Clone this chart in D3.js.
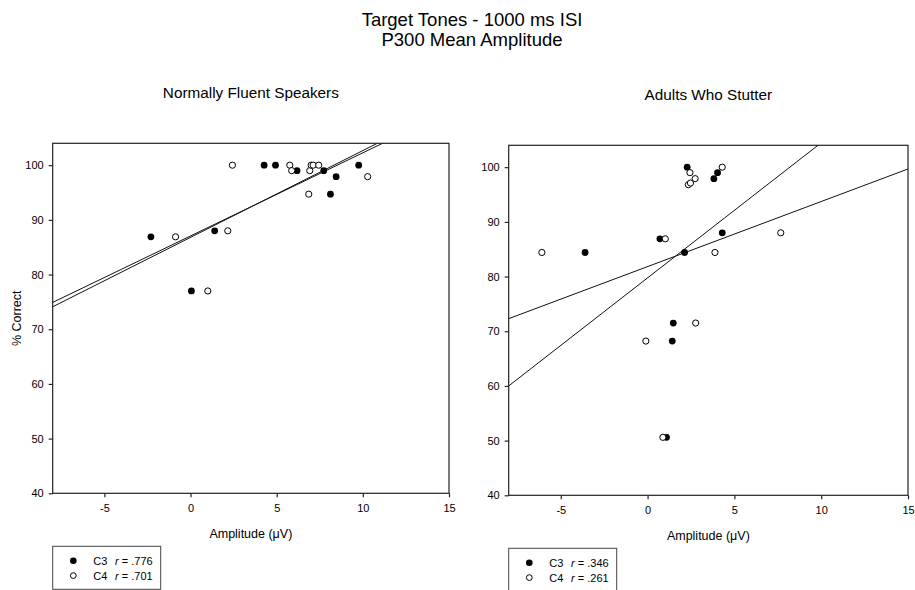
<!doctype html>
<html lang="en">
	<head>
		<meta charset="utf-8" />
		<title>Target Tones - 1000 ms ISI, P300 Mean Amplitude</title>
		<script type="text/javascript" src="https://d3js.org/d3.v7.min.js"></script>
		<style>
			body { margin: 0; background: #fff; }
			text { font-family: "Liberation Sans", Arial, sans-serif; fill: #000; }
		</style>
	</head>

	<body>
		<script type="text/javascript">
			var w = 915;
			var h = 590;

			// axis values
			var xTicks = [-5, 0, 5, 10, 15];
			var yTicks = [40, 50, 60, 70, 80, 90, 100];
			var xDomain = [-8, 15];
			var yDomain = [40, 104];

			// Normally Fluent Speakers
			var fluentC3X = [-2.3, 0.05, 1.4, 4.27, 4.93, 6.18, 7.73, 8.12, 8.45, 9.76];
			var fluentC3Y = [86.9, 77.0, 88.0, 100, 100, 99.0, 99.0, 94.7, 97.9, 100];
			var fluentC4X = [-0.87, 1.0, 2.16, 2.43, 5.76, 5.87, 6.86, 6.92, 7.0, 7.12, 7.44, 10.28];
			var fluentC4Y = [86.9, 77.0, 88.0, 100, 100, 99.0, 94.7, 99.0, 100, 100, 100, 97.9];
			var fluentFitIntercept = [87.06, 86.80];
			var fluentFitSlope = [1.52, 1.587];
			var fluentR = [".776", ".701"];

			// Adults Who Stutter
			var stutterC3X = [2.28, 3.82, 4.03, 4.30, 0.71, -3.6, 2.13, 1.48, 1.42, 1.09];
			var stutterC3Y = [100, 97.9, 99.0, 88.0, 86.9, 84.4, 84.4, 71.5, 68.2, 50.6];
			var stutterC4X = [4.30, 2.44, 2.74, 2.35, 2.47, 1.02, -6.09, 3.88, 7.67, 2.77, -0.1, 0.88];
			var stutterC4Y = [100, 99.0, 97.9, 96.8, 97.1, 86.9, 84.4, 84.4, 88.0, 71.5, 68.2, 50.6];
			var stutterFitIntercept = [79.76, 81.82];
			var stutterFitSlope = [2.47, 1.19];
			var stutterR = [".346", ".261"];

			var svg = d3.select("body")
				.append("svg")
				.attr("width", w)
				.attr("height", h);

			svg.append("text")
				.attr("x", 472)
				.attr("y", 26)
				.attr("text-anchor", "middle")
				.attr("font-size", "18.5px")
				.text("Target Tones - 1000 ms ISI");
			svg.append("text")
				.attr("x", 472)
				.attr("y", 46)
				.attr("text-anchor", "middle")
				.attr("font-size", "18.5px")
				.text("P300 Mean Amplitude");

			function drawPanel(p) {
				var x = d3.scaleLinear().domain(xDomain).range([p.left, p.right]);
				var y = d3.scaleLinear().domain(yDomain).range([p.bottom, p.top]);
				var g = svg.append("g");

				g.append("text")
					.attr("x", (p.left + p.right) / 2)
					.attr("y", p.top - 45)
					.attr("text-anchor", "middle")
					.attr("font-size", "15.3px")
					.text(p.title);

				g.append("clipPath")
					.attr("id", p.id + "-clip")
					.append("rect")
					.attr("x", p.left)
					.attr("y", p.top)
					.attr("width", p.right - p.left)
					.attr("height", p.bottom - p.top);

				// regression lines
				g.append("g")
					.attr("clip-path", "url(#" + p.id + "-clip)")
					.selectAll("line")
					.data(p.intercept)
					.enter()
					.append("line")
					.attr("x1", x(xDomain[0]))
					.attr("x2", x(xDomain[1]))
					.attr("y1", function(d, i) { return y(d + p.slope[i] * xDomain[0]); })
					.attr("y2", function(d, i) { return y(d + p.slope[i] * xDomain[1]); })
					.attr("stroke", "#111")
					.attr("stroke-width", 1);

				// frame
				g.append("rect")
					.attr("x", p.left)
					.attr("y", p.top)
					.attr("width", p.right - p.left)
					.attr("height", p.bottom - p.top)
					.attr("fill", "none")
					.attr("stroke", "#222")
					.attr("stroke-width", 1.2);

				var fmt = function(d) { return String(d); };
				var xAxis = g.append("g")
					.attr("transform", "translate(0," + p.bottom + ")")
					.call(d3.axisBottom(x).tickValues(xTicks).tickFormat(fmt).tickSize(4).tickPadding(7).tickSizeOuter(0));
				var yAxis = g.append("g")
					.attr("transform", "translate(" + p.left + ",0)")
					.call(d3.axisLeft(y).tickValues(yTicks).tickFormat(fmt).tickSize(4).tickPadding(5).tickSizeOuter(0));
				[xAxis, yAxis].forEach(function(a) {
					a.select(".domain").remove();
					a.selectAll("line").attr("stroke", "#222").attr("stroke-width", 1.2);
					a.selectAll("text")
						.attr("font-size", "11px")
						.attr("font-family", "'Liberation Sans', Arial, sans-serif")
						.attr("fill", "#111");
				});

				g.append("text")
					.attr("x", (p.left + p.right) / 2)
					.attr("y", p.bottom + 45)
					.attr("text-anchor", "middle")
					.attr("font-size", "12.5px")
					.text("Amplitude (\u03BCV)");

				if (p.yTitle) {
					g.append("text")
						.attr("transform", "translate(21," + (p.top + p.bottom) / 2 + ") rotate(-90)")
						.attr("text-anchor", "middle")
						.attr("font-size", "12.5px")
						.text("% Correct");
				}

				// C3 filled
				g.selectAll("circle.c3")
					.data(p.c3x)
					.enter()
					.append("circle")
					.attr("class", "c3")
					.attr("cx", function(d) { return x(d); })
					.attr("cy", function(d, i) { return y(p.c3y[i]); })
					.attr("r", 3.4)
					.attr("fill", "#000");

				// C4 open
				g.selectAll("circle.c4")
					.data(p.c4x)
					.enter()
					.append("circle")
					.attr("class", "c4")
					.attr("cx", function(d) { return x(d); })
					.attr("cy", function(d, i) { return y(p.c4y[i]); })
					.attr("r", 3.1)
					.attr("fill", "#fff")
					.attr("stroke", "#000")
					.attr("stroke-width", 1);

				// legend
				var lx = p.left;
				var ly = p.bottom + 53;
				g.append("rect")
					.attr("x", lx)
					.attr("y", ly)
					.attr("width", 108)
					.attr("height", 43)
					.attr("fill", "none")
					.attr("stroke", "#444")
					.attr("stroke-width", 1);
				var rows = g.selectAll("g.leg")
					.data(["C3", "C4"])
					.enter()
					.append("g")
					.attr("class", "leg")
					.attr("transform", function(d, i) { return "translate(" + lx + "," + (ly + 14.5 + i * 14.8) + ")"; });
				rows.append("circle")
					.attr("cx", 20.6)
					.attr("cy", 0)
					.attr("r", function(d, i) { return i == 0 ? 3.3 : 2.9; })
					.attr("fill", function(d, i) { return i == 0 ? "#000" : "#fff"; })
					.attr("stroke", "#000")
					.attr("stroke-width", function(d, i) { return i == 0 ? 0 : 1; });
				rows.append("text")
					.attr("x", 40.6)
					.attr("y", 4)
					.attr("font-size", "11px")
					.text(function(d) { return d; });
				var rt = rows.append("text")
					.attr("x", 62.3)
					.attr("y", 4)
					.attr("font-size", "11px");
				rt.append("tspan")
					.attr("font-style", "italic")
					.text("r");
				rt.append("tspan")
					.text(function(d, i) { return " = " + p.r[i]; });
			}

			drawPanel({
				id: "fluent", title: "Normally Fluent Speakers", yTitle: true,
				left: 52.7, right: 449, top: 143.3, bottom: 493.3,
				c3x: fluentC3X, c3y: fluentC3Y, c4x: fluentC4X, c4y: fluentC4Y,
				intercept: fluentFitIntercept, slope: fluentFitSlope, r: fluentR
			});
			drawPanel({
				id: "stutter", title: "Adults Who Stutter", yTitle: false,
				left: 508.7, right: 908, top: 145.3, bottom: 495.3,
				c3x: stutterC3X, c3y: stutterC3Y, c4x: stutterC4X, c4y: stutterC4Y,
				intercept: stutterFitIntercept, slope: stutterFitSlope, r: stutterR
			});
		</script>
	</body>
</html>
